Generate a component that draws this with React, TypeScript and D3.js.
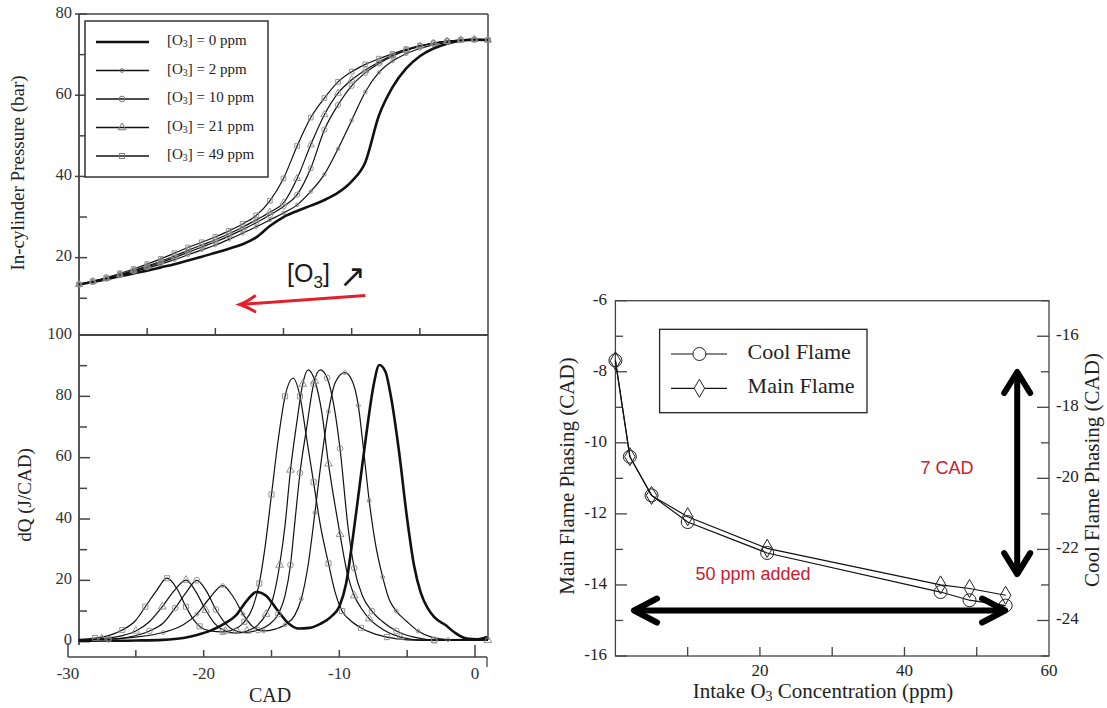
import React from "react";
import * as d3 from "d3";

// ---------- Left chart data ----------
const cadGrid = [-30, -29, -28, -27, -26, -25, -24, -23, -22, -21, -20, -19, -18, -17, -16, -15, -14, -13, -12, -11, -10, -9, -8, -7, -6, -5, -4, -3, -2, -1, 0];

const pressure0 = [13.4, 14.0, 14.7, 15.4, 16.1, 16.8, 17.6, 18.4, 19.3, 20.2, 21.2, 22.2, 23.3, 25.0, 27.8, 30.0, 31.5, 32.8, 34.2, 36.0, 38.8, 43.5, 55.0, 62.0, 66.6, 69.6, 71.5, 72.7, 73.4, 73.7, 73.6];
const pressure2 = [13.4, 14.0, 14.8, 15.6, 16.5, 17.4, 18.4, 19.5, 20.7, 21.9, 23.1, 24.5, 26.0, 27.6, 29.3, 31.0, 33.0, 36.3, 40.5, 46.8, 53.8, 60.8, 65.6, 68.4, 70.2, 71.5, 72.4, 73.0, 73.5, 73.7, 73.6];
const pressure10 = [13.4, 14.0, 14.8, 15.7, 16.7, 17.7, 18.8, 20.0, 21.3, 22.6, 23.9, 25.3, 26.9, 28.6, 30.5, 32.6, 35.5, 42.0, 51.5, 57.6, 62.3, 65.5, 67.8, 69.6, 71.0, 72.0, 72.8, 73.3, 73.6, 73.7, 73.6];
const pressure21 = [13.4, 14.1, 14.9, 15.8, 16.8, 17.9, 19.1, 20.4, 21.8, 23.1, 24.4, 25.9, 27.5, 29.3, 31.2, 33.5, 39.5, 47.8, 55.2, 60.5, 63.8, 66.2, 68.2, 69.8, 71.1, 72.1, 72.8, 73.3, 73.6, 73.7, 73.6];
const pressure49 = [13.4, 14.2, 15.1, 16.1, 17.2, 18.4, 19.7, 21.1, 22.5, 23.8, 25.1, 26.6, 28.3, 30.4, 34.0, 39.5, 47.5, 54.5, 59.3, 63.3, 65.8, 67.6, 69.0, 70.2, 71.3, 72.2, 72.8, 73.3, 73.6, 73.7, 73.6];

// heat release [CAD, dQ]
const dq0: [number, number][] = [[-29.2, 0.3], [-27, 0.3], [-25, 0.4], [-23, 0.6], [-21.5, 1.2], [-20.5, 2.2], [-19.5, 3.6], [-18.5, 5.8], [-17.6, 8.7], [-16.8, 13.5], [-16.1, 16.2], [-15.4, 15], [-14.6, 10.5], [-13.8, 6.2], [-13, 4.3], [-12.2, 4.5], [-11.4, 5.8], [-10.6, 8.2], [-10, 11.5], [-9.5, 19], [-9, 34], [-8.5, 51], [-8, 68], [-7.5, 83], [-7.05, 90.2], [-6.6, 88], [-6.2, 80], [-5.6, 62], [-5.0, 40], [-4.5, 25], [-4.0, 16], [-3.5, 11], [-3, 8], [-2.2, 5.5], [-1.5, 3], [-0.6, 1.0], [0.2, 0.8], [0.95, 1.6]];
const dq2: [number, number][] = [[-29.2, 0.5], [-27, 0.8], [-25, 1.5], [-23, 3], [-21.5, 5.5], [-20.5, 9], [-19.6, 14], [-18.6, 18.3], [-17.8, 14.5], [-17.1, 9], [-16.4, 5], [-15.6, 3.5], [-14.8, 4], [-14, 5.5], [-13.3, 8.5], [-12.8, 14], [-12.3, 25], [-11.8, 42], [-11.3, 60], [-10.8, 75], [-10.3, 84.5], [-9.6, 87.7], [-9.1, 85.5], [-8.6, 77], [-8.2, 62], [-7.8, 46], [-7.3, 31], [-6.8, 21], [-6.3, 13.5], [-5.8, 10], [-5.0, 6.5], [-4.2, 3.5], [-3.2, 1.5], [-2, 0.7], [0.95, 0.8]];
const dq10: [number, number][] = [[-29.2, 0.4], [-27, 0.8], [-25.5, 1.5], [-24, 3.5], [-23, 6], [-22.1, 11], [-21.3, 16], [-20.5, 20], [-19.8, 16.5], [-19.1, 10.5], [-18.4, 6], [-17.6, 3.5], [-16.8, 3], [-16, 3.8], [-15.2, 5.5], [-14.5, 9], [-14, 15], [-13.6, 25], [-13.3, 38], [-12.9, 55], [-12.4, 70], [-11.9, 84], [-11.4, 88.6], [-10.9, 86], [-10.4, 77], [-9.95, 63], [-9.35, 37], [-8.9, 24], [-8.3, 15], [-7.6, 10], [-6.8, 6.5], [-5.8, 3.5], [-4.5, 1.5], [-3, 0.6], [0.95, 0.5]];
const dq21: [number, number][] = [[-29.2, 0.5], [-27.5, 1], [-26, 2], [-25, 3.5], [-24, 6.5], [-23.05, 11.4], [-22.2, 16.5], [-21.3, 20.1], [-20.6, 16.5], [-19.85, 10.3], [-19.2, 6], [-18.4, 3.5], [-17.6, 2.8], [-16.8, 3.5], [-16, 5.5], [-15.4, 9], [-14.9, 14], [-14.4, 25], [-14.0, 38], [-13.6, 56], [-13.15, 71], [-12.7, 84], [-12.3, 88.6], [-11.8, 85], [-11.3, 75], [-10.8, 58], [-10.3, 44], [-9.95, 35], [-9.4, 22], [-8.9, 15], [-8.4, 11], [-7.8, 7.5], [-6.8, 4], [-5.5, 1.5], [-4, 0.6], [0.95, 0.5]];
const dq49: [number, number][] = [[-29.2, 0.8], [-28, 1.2], [-27, 2], [-26, 3.8], [-25, 7], [-24.3, 11.4], [-23.5, 16.5], [-22.7, 20.7], [-22, 17.5], [-21.3, 11.4], [-20.8, 7.5], [-20.3, 5], [-19.5, 3.5], [-18.6, 3.2], [-17.8, 4], [-17, 6.5], [-16.4, 11], [-15.9, 19], [-15.5, 30], [-15.0, 48], [-14.5, 66], [-14.0, 80], [-13.4, 85.9], [-12.9, 80], [-12.4, 66], [-11.9, 52], [-11.4, 38], [-10.8, 25.5], [-10.3, 16], [-9.8, 10], [-9.2, 7], [-8.4, 4.5], [-7.5, 2.7], [-6.5, 1.5], [-5, 0.6], [-3, 0.4], [0.95, 0.5]];

const ozoneLabels = ["0", "2", "10", "21", "49"];
const markerTypes = [null, "dot", "circle", "triangle", "square"];

const pressureTicksMajor = [80, 60, 40, 20];
const pressureTicksMinor = [70, 50, 30, 10];
const dqTicksMajor = [100, 80, 60, 40, 20, 0];
const dqTicksMinor = [90, 70, 50, 30, 10];
const cadTicks = [-25, -20, -15, -10, -5];
const cadLabels = [-30, -20, -10, 0];

// ---------- Right chart data ----------
const ozonePpm = [0, 2, 5, 10, 21, 45, 49, 54];
const mainFlame = [-7.69, -10.39, -11.48, -12.08, -12.97, -14.0, -14.1, -14.29];
const coolFlame = [-16.68, -19.39, -20.48, -21.23, -22.1, -23.2, -23.43, -23.58];
const leftTicks = [-16, -15, -14, -13, -12, -11, -10, -9, -8, -7, -6];
const rightTicks = [-25, -24, -23, -22, -21, -20, -19, -18, -17, -16, -15];
const ppmTicks = [10, 20, 30, 40, 50];
const ppmLabels = [20, 40, 60];

// ---------- scales ----------
const xTop = d3.scaleLinear().domain([-30, 0]).range([79, 488]);
const yTop = d3.scaleLinear().domain([0.95, 80]).range([335, 14]);
const xBot = d3.scaleLinear().domain([-30, 0]).range([68, 475]);
const yBot = d3.scaleLinear().domain([0, 100]).range([641.7, 335]);
const xR = d3.scaleLinear().domain([0, 60]).range([615.4, 1049]);
const yRL = d3.scaleLinear().domain([-16, -6]).range([656, 300.7]);
const yRR = d3.scaleLinear().domain([-25, -15]).range([656, 300.7]);

const SERIF = "'Liberation Serif', 'Times New Roman', serif";
const SANS = "'Liberation Sans', Arial, sans-serif";

function markerPath(type: string | null, size: number) {
  if (!type) return null;
  const t = type === "triangle" ? d3.symbolTriangle : type === "square" ? d3.symbolSquare : d3.symbolCircle;
  const s = type === "dot" ? size * 0.45 : size;
  return d3.symbol().type(t).size(s)();
}

const O3Label = ({ x, y, ppm, fs }: { x: number; y: number; ppm: string; fs: number }) => (
  <text x={x} y={y} fontFamily={SERIF} fontSize={fs} fill="#222" dominantBaseline="middle">
    [O<tspan fontSize={fs * 0.65} dy={fs * 0.2}>3</tspan>
    <tspan dy={-fs * 0.2}>] = {ppm} ppm</tspan>
  </text>
);

export default function App() {
  const lineTop = d3.line<number>().x((_, i) => xTop(cadGrid[i])).y((d) => yTop(d)).curve(d3.curveMonotoneX);
  const lineBot = d3.line<[number, number]>().x((d) => xBot(d[0])).y((d) => yBot(d[1])).curve(d3.curveMonotoneX);
  const pressures = [pressure0, pressure2, pressure10, pressure21, pressure49];
  const dqs = [dq0, dq2, dq10, dq21, dq49];

  const lineMain = d3.line<number>().x((_, i) => xR(ozonePpm[i])).y((d) => yRL(d));
  const lineCool = d3.line<number>().x((_, i) => xR(ozonePpm[i])).y((d) => yRR(d));
  const diamond = d3.symbol().type(d3.symbolDiamond).size(95)();
  const circleR = 6.5;

  const frame = "#444";

  // annotations in data coordinates
  const redStart = [-9.0, 10.7];
  const redEnd = [-18.2, 8.45];
  const hArrow = { y: -14.72, x0: 2.3, x1: 54.2 };
  const vArrow = { x: 55.6, y0: -7.95, y1: -13.75 };

  const rx0 = xTop(redStart[0]), ry0 = yTop(redStart[1]);
  const rx1 = xTop(redEnd[0]), ry1 = yTop(redEnd[1]);

  const hx0 = xR(hArrow.x0), hx1 = xR(hArrow.x1), hy = yRL(hArrow.y);
  const vx = xR(vArrow.x), vy0 = yRL(vArrow.y0), vy1 = yRL(vArrow.y1);

  return (
    <svg width={1107} height={708} style={{ position: "absolute", left: 0, top: 0, background: "#fff" }}>
      <rect width={1107} height={708} fill="#fff" />

      {/* ===== Top-left panel: pressure ===== */}
      <g>
        <line x1={79} y1={14} x2={488} y2={14} stroke={frame} strokeWidth={1.5} />
        <line x1={488} y1={14} x2={488} y2={335} stroke={frame} strokeWidth={1.5} />
        <line x1={79} y1={14} x2={79} y2={645} stroke={frame} strokeWidth={1.8} />
        <line x1={79} y1={335} x2={488} y2={335} stroke={frame} strokeWidth={1.8} />
        {pressureTicksMajor.map((t) => (
          <g key={"pm" + t}>
            <line x1={75} x2={87} y1={yTop(t)} y2={yTop(t)} stroke={frame} strokeWidth={1.5} />
            <text x={72} y={yTop(t)} textAnchor="end" dominantBaseline="middle" fontFamily={SERIF} fontSize={16.5} fill="#333">{t}</text>
          </g>
        ))}
        {pressureTicksMinor.map((t) => (
          <line key={"pn" + t} x1={79} x2={87} y1={yTop(t)} y2={yTop(t)} stroke={frame} strokeWidth={1.5} />
        ))}
        {cadTicks.map((t) => (
          <line key={"ct" + t} x1={xTop(t)} x2={xTop(t)} y1={335} y2={328} stroke={frame} strokeWidth={1.5} />
        ))}
        {pressures.map((p, si) => (
          <path key={"pl" + si} d={lineTop(p) || ""} fill="none" stroke="#111" strokeWidth={si === 0 ? 2.6 : 1.2} />
        ))}
        {pressures.map((p, si) =>
          si === 0 ? null : p.map((v, i) => (
            <path key={"pmk" + si + "-" + i} d={markerPath(markerTypes[si], 22) || ""} transform={`translate(${xTop(cadGrid[i])},${yTop(v)})`} fill="none" stroke="#888" strokeWidth={0.9} />
          ))
        )}
        {/* legend */}
        <rect x={85} y={21} width={183} height={156} fill="#fff" stroke="#333" strokeWidth={1.5} />
        {ozoneLabels.map((l, i) => {
          const y = 42 + i * 28.5;
          return (
            <g key={"lg" + i}>
              <line x1={96} x2={149} y1={y} y2={y} stroke="#111" strokeWidth={i === 0 ? 2.6 : 1.3} />
              {markerTypes[i] && (
                <path d={markerPath(markerTypes[i], 26) || ""} transform={`translate(122,${y})`} fill="none" stroke="#777" strokeWidth={1} />
              )}
              <O3Label x={167} y={y} ppm={l} fs={15} />
            </g>
          );
        })}
        <text x={20} y={173} transform="rotate(-90 20 173)" textAnchor="middle" dominantBaseline="middle" fontFamily={SERIF} fontSize={19} fill="#222">In-cylinder Pressure (bar)</text>

        {/* red arrow annotation */}
        <line x1={rx0} y1={ry0} x2={rx1} y2={ry1} stroke="#e3202a" strokeWidth={3} />
        <path d={`M${rx1 + 15},${ry1 - 8.5} Q${rx1 + 6},${ry1 - 2} ${rx1},${ry1} Q${rx1 + 6},${ry1 + 2} ${rx1 + 15},${ry1 + 7}`} fill="none" stroke="#e3202a" strokeWidth={3} strokeLinecap="round" />
        <text x={287} y={282} fontFamily={SANS} fontSize={25} fill="#1a1a1a">
          [O<tspan fontSize={17} dy={6}>3</tspan><tspan dy={-6}>]</tspan>
        </text>
        <text x={339} y={287} fontFamily={"'DejaVu Sans', sans-serif"} fontSize={32} fill="#1a1a1a">↗</text>
      </g>

      {/* ===== Bottom-left panel: heat release ===== */}
      <g>
        <line x1={488} y1={335} x2={488} y2={640} stroke={frame} strokeWidth={1.5} />
        {dqTicksMajor.map((t) => (
          <g key={"dm" + t}>
            <line x1={79} x2={90} y1={yBot(t)} y2={yBot(t)} stroke={frame} strokeWidth={1.5} />
            <text x={72} y={yBot(t)} textAnchor="end" dominantBaseline="middle" fontFamily={SERIF} fontSize={16.5} fill="#333">{t}</text>
          </g>
        ))}
        {dqTicksMinor.map((t) => (
          <line key={"dn" + t} x1={79} x2={87} y1={yBot(t)} y2={yBot(t)} stroke={frame} strokeWidth={1.5} />
        ))}
        {dqs.map((d, si) => (
          <path key={"dl" + si} d={lineBot(d) || ""} fill="none" stroke="#111" strokeWidth={si === 0 ? 2.6 : 1.2} />
        ))}
        {dqs.map((d, si) =>
          si === 0 ? null : d.filter((_, i) => i % 2 === 1).map((p, i) => (
            <path key={"dmk" + si + "-" + i} d={markerPath(markerTypes[si], 26) || ""} transform={`translate(${xBot(p[0])},${yBot(p[1])})`} fill="none" stroke="#888" strokeWidth={0.9} />
          ))
        )}
        {/* separate x axis */}
        <line x1={68} x2={487} y1={657} y2={657} stroke={frame} strokeWidth={1.5} />
        {cadTicks.map((t) => (
          <line key={"bt" + t} x1={xBot(t)} x2={xBot(t)} y1={657} y2={650} stroke={frame} strokeWidth={1.5} />
        ))}
        <line x1={xBot(-30)} x2={xBot(-30)} y1={657} y2={643} stroke={frame} strokeWidth={1.5} />
        <line x1={xBot(0)} x2={xBot(0)} y1={657} y2={645} stroke={frame} strokeWidth={1.5} />
        <line x1={487} x2={487} y1={657} y2={667} stroke={frame} strokeWidth={1.3} />
        {cadLabels.map((t) => (
          <text key={"bl" + t} x={xBot(t)} y={675} textAnchor="middle" dominantBaseline="middle" fontFamily={SERIF} fontSize={17} fill="#333">{t}</text>
        ))}
        <text x={270} y={697} textAnchor="middle" dominantBaseline="middle" fontFamily={SERIF} fontSize={20} fill="#222">CAD</text>
        <text x={27} y={495} transform="rotate(-90 27 495)" textAnchor="middle" dominantBaseline="middle" fontFamily={SERIF} fontSize={19} fill="#222">dQ (J/CAD)</text>
      </g>

      {/* ===== Right chart ===== */}
      <g>
        <rect x={615.4} y={300.7} width={1049 - 615.4} height={656 - 300.7} fill="none" stroke={frame} strokeWidth={1.3} />
        {leftTicks.map((t) => (
          <line key={"lt" + t} x1={615.4} x2={t % 2 === 0 ? 627 : 623} y1={yRL(t)} y2={yRL(t)} stroke={frame} strokeWidth={1.3} />
        ))}
        {leftTicks.filter((t) => t % 2 === 0).map((t) => (
          <text key={"ll" + t} x={607} y={yRL(t)} textAnchor="end" dominantBaseline="middle" fontFamily={SERIF} fontSize={17} fill="#222">{t}</text>
        ))}
        {rightTicks.map((t) => (
          <line key={"rt" + t} x1={1049} x2={t % 2 === 0 ? 1037 : 1041} y1={yRR(t)} y2={yRR(t)} stroke={frame} strokeWidth={1.3} />
        ))}
        {rightTicks.filter((t) => t % 2 === 0 && t > -25 && t < -15).map((t) => (
          <text key={"rl" + t} x={1056} y={yRR(t)} textAnchor="start" dominantBaseline="middle" fontFamily={SERIF} fontSize={17} fill="#222">{t}</text>
        ))}
        {ppmTicks.map((t) => (
          <line key={"xt" + t} x1={xR(t)} x2={xR(t)} y1={656} y2={647} stroke={frame} strokeWidth={1.3} />
        ))}
        {ppmLabels.map((t) => (
          <text key={"xl" + t} x={xR(t)} y={672} textAnchor="middle" dominantBaseline="middle" fontFamily={SERIF} fontSize={17} fill="#222">{t}</text>
        ))}

        <path d={lineCool(coolFlame) || ""} fill="none" stroke="#111" strokeWidth={1.2} />
        <path d={lineMain(mainFlame) || ""} fill="none" stroke="#111" strokeWidth={1.2} />
        {coolFlame.map((v, i) => (
          <circle key={"cf" + i} cx={xR(ozonePpm[i])} cy={yRR(v)} r={circleR} fill="none" stroke="#222" strokeWidth={1} />
        ))}
        {mainFlame.map((v, i) => (
          <path key={"mf" + i} d={diamond || ""} transform={`translate(${xR(ozonePpm[i])},${yRL(v)})`} fill="none" stroke="#222" strokeWidth={1} />
        ))}

        {/* legend */}
        <rect x={659.6} y={329.3} width={207.4} height={83.4} fill="#fff" stroke="#222" strokeWidth={1.3} />
        <line x1={671} x2={727} y1={354} y2={354} stroke="#111" strokeWidth={1.2} />
        <circle cx={699.4} cy={354} r={circleR} fill="#fff" stroke="#222" strokeWidth={1} />
        <text x={747.6} y={354} dominantBaseline="middle" fontFamily={SERIF} fontSize={22} fill="#222">Cool Flame</text>
        <line x1={671} x2={727} y1={388.3} y2={388.3} stroke="#111" strokeWidth={1.2} />
        <path d={diamond || ""} transform="translate(699.4,388.3)" fill="#fff" stroke="#222" strokeWidth={1} />
        <text x={747.6} y={388.3} dominantBaseline="middle" fontFamily={SERIF} fontSize={22} fill="#222">Main Flame</text>

        {/* annotations */}
        <text x={947} y={469} textAnchor="middle" dominantBaseline="middle" fontFamily={SANS} fontSize={18} fill="#c8202e">7 CAD</text>
        <text x={753} y={575} textAnchor="middle" dominantBaseline="middle" fontFamily={SANS} fontSize={18} fill="#c8202e">50 ppm added</text>

        <line x1={hx0 + 3} x2={hx1 - 3} y1={hy} y2={hy} stroke="#000" strokeWidth={6} />
        <path d={`M${hx0 + 25},${hy - 12} L${hx0 + 2},${hy} L${hx0 + 25},${hy + 12}`} fill="none" stroke="#000" strokeWidth={6} strokeLinecap="round" strokeLinejoin="round" />
        <path d={`M${hx1 - 25},${hy - 12} L${hx1 - 2},${hy} L${hx1 - 25},${hy + 12}`} fill="none" stroke="#000" strokeWidth={6} strokeLinecap="round" strokeLinejoin="round" />

        <line x1={vx} x2={vx} y1={vy0 + 3} y2={vy1 - 3} stroke="#000" strokeWidth={6} />
        <path d={`M${vx - 13},${vy0 + 23} L${vx},${vy0 + 2} L${vx + 13},${vy0 + 23}`} fill="none" stroke="#000" strokeWidth={6} strokeLinecap="round" strokeLinejoin="round" />
        <path d={`M${vx - 13},${vy1 - 23} L${vx},${vy1 - 2} L${vx + 13},${vy1 - 23}`} fill="none" stroke="#000" strokeWidth={6} strokeLinecap="round" strokeLinejoin="round" />

        <text x={569} y={476} transform="rotate(-90 569 476)" textAnchor="middle" dominantBaseline="middle" fontFamily={SERIF} fontSize={21} fill="#222">Main Flame Phasing (CAD)</text>
        <text x={1094} y={470} transform="rotate(-90 1094 470)" textAnchor="middle" dominantBaseline="middle" fontFamily={SERIF} fontSize={21} fill="#222">Cool Flame Phasing (CAD)</text>
        <text x={823} y={693} textAnchor="middle" dominantBaseline="middle" fontFamily={SERIF} fontSize={21} fill="#222">
          Intake O<tspan fontSize={14} dy={5}>3</tspan><tspan dy={-5}> Concentration (ppm)</tspan>
        </text>
      </g>
    </svg>
  );
}
